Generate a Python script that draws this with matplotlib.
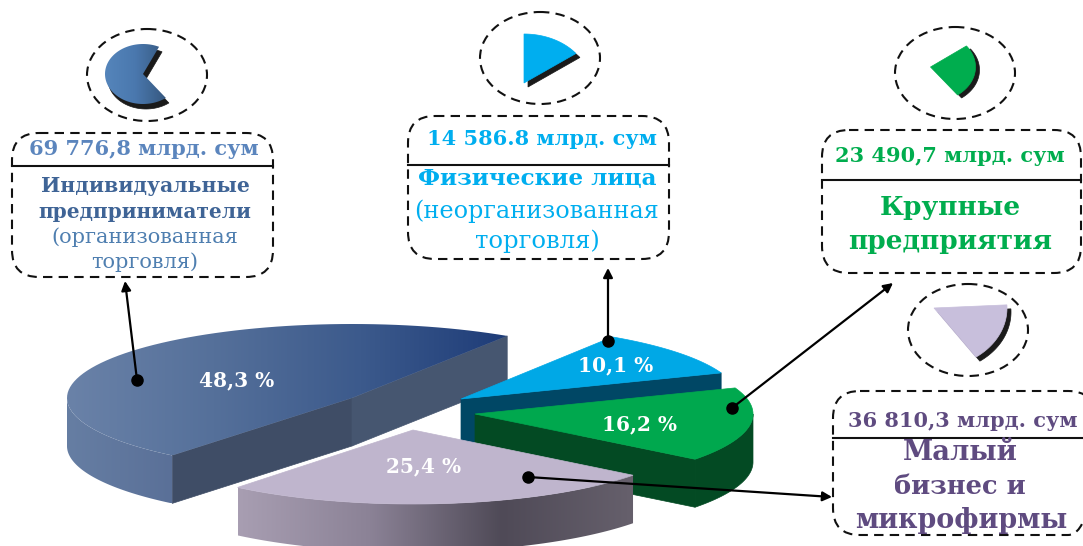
# coding: utf-8
import numpy as np
import matplotlib
matplotlib.use("Agg")
from matplotlib import pyplot as plt
from matplotlib.colors import LinearSegmentedColormap
from matplotlib.patches import Polygon, Ellipse, FancyBboxPatch

plt.rcParams['font.family'] = ['DejaVu Serif']

# data
shares = [10.1, 16.2, 25.4, 48.3]
share_labels = ['10,1 %', '16,2 %', '25,4 %', '48,3 %']
amounts = ['14 586.8 млрд. сум', '23 490,7 млрд. сум', '36 810,3 млрд. сум', '69 776,8 млрд. сум']

# layout, in pixels of the picture
W, H = 1083, 546
radii = [(278., 74.), (278., 74.), (278., 74.), (285., 74.)]
depth = 48.
start_angle = 57.
centers = [(461, 399), (475, 414), (413, 430), (352, 398)]
label_pos = [(616, 365), (640, 424), (424, 466), (237, 380)]
draw_order = [3, 0, 1, 2]

top_colors = [['#00a8e6'], ['#00a84e'], ['#bfb5cd'], ['#6a82a8', '#55709a', '#3c5a8c', '#1e3c78']]
side_colors = [['#004765'], ['#034a23'], ['#a89eb2', '#8b8296', '#4f4a57', '#66606c'], ['#667ea3', '#5a7098']]
wall_colors = [('#004765', '#004765'), ('#034a23', '#034a23'),
               ('#8b8296', '#8b8296'), ('#3f4d66', '#465670')]

fig = plt.figure(figsize=(W / 100, H / 100), dpi=100)
ax = fig.add_axes([0, 0, 1, 1])
zc = [1]


def next_z():
    zc[0] += 1
    return zc[0]


def fill(points, colors):
    # plain polygon for one colour, clipped gradient image for several
    points = np.asarray(points)
    z = next_z()
    if len(colors) == 1:
        ax.add_patch(Polygon(points, closed=True, fc=colors[0], ec=colors[0], lw=0.5, zorder=z))
        return
    poly = Polygon(points, closed=True, transform=ax.transData)
    cmap = LinearSegmentedColormap.from_list('g', colors)
    x0, x1 = points[:, 0].min(), points[:, 0].max()
    y0, y1 = points[:, 1].min(), points[:, 1].max()
    im = ax.imshow(np.linspace(0, 1, 256).reshape(1, -1), cmap=cmap, aspect='auto',
                   extent=(x0, x1, y1, y0), zorder=z, interpolation='bilinear')
    im.set_clip_path(poly)


def arc(cx, cy, a1, a2, arx, ary, n=80):
    t = np.radians(np.linspace(a1, a2, n))
    return np.column_stack((cx + arx * np.cos(t), cy - ary * np.sin(t)))


# pie: slices go clockwise from start_angle
angle = start_angle
spans = []
for s in shares:
    spans.append((angle, angle - s * 3.6))
    angle -= s * 3.6

for i in draw_order:
    a1, a2 = spans[i]
    cx, cy = centers[i]
    rx, ry = radii[i]
    apex = np.array([cx, cy], dtype=float)
    down = np.array([0, depth])
    p1 = arc(cx, cy, a1, a1, rx, ry, n=1)[0]
    p2 = arc(cx, cy, a2, a2, rx, ry, n=1)[0]
    if np.cos(np.radians(a1)) < 0:
        fill([apex, p1, p1 + down, apex + down], [wall_colors[i][0]])
    if np.cos(np.radians(a2)) > 0:
        fill([apex, p2, p2 + down, apex + down], [wall_colors[i][1]])
    # outer rim, only the part that faces the viewer
    low = max(a2, -180.)
    high = min(a1, 0.)
    if low < high:
        rim = arc(cx, cy, low, high, rx, ry)
        fill(np.vstack((rim, (rim + down)[::-1])), side_colors[i])
    fill(np.vstack(([apex], arc(cx, cy, a1, a2, rx, ry))), top_colors[i])
    ax.text(label_pos[i][0], label_pos[i][1], share_labels[i], color='white', fontsize=14.5,
            fontweight='bold', ha='center', va='center', zorder=60)

# icons: dashed ring + small slice with black shadow
rings = [(540, 58), (955, 73), (968, 330), (147, 75)]
icon_apex = [(524, 83), (930.5, 67), (934, 308), (143, 74)]
icon_radii = [(65, 49), (45, 35), (73, 60), (38, 30)]
icon_angles = [(90, 37), (37, -53), (3, -55), (65, 307)]
icon_colors = [['#00aeef'], ['#00ad4e'], ['#c8bfdc'], ['#5585bb', '#4a78ae', '#36587f']]
icon_shadow = [(4, 4), (4, 3), (4, 4), (3, 5)]

for i in range(4):
    ax.add_patch(Ellipse(rings[i], 120, 92, fc='none', ec='#111111', lw=1.5, ls=(0, (4.5, 3)), zorder=70))
    a1, a2 = icon_angles[i]
    pts = arc(icon_apex[i][0], icon_apex[i][1], a1, a2, icon_radii[i][0], icon_radii[i][1])
    shape = np.vstack(([icon_apex[i]], pts))
    fill(shape + np.array(icon_shadow[i]), ['#1a1a1a'])
    fill(shape, icon_colors[i])

# callout boxes
boxes = [(408, 116, 261, 143, 165), (822, 130, 259, 143, 180), (833, 391, 262, 144, 438), (12, 133, 261, 144, 166)]
for x, y, w, h, yd in boxes:
    ax.add_patch(FancyBboxPatch((x, y), w, h, boxstyle='round,pad=0,rounding_size=27', fc='none',
                                ec='#111111', lw=1.5, ls=(0, (4.5, 3)), zorder=70))
    ax.plot([x, x + w], [yd, yd], color='#111111', lw=1.5, zorder=70)

amount_pos = [(542, 139), (950, 156), (963, 421), (144, 149)]
amount_colors = ['#00aeef', '#00ad4e', '#5f4b80', '#5b85bd']
for i in range(4):
    ax.text(amount_pos[i][0], amount_pos[i][1], amounts[i], color=amount_colors[i], fontsize=15,
            fontweight='bold', ha='center', va='center', zorder=71)

names = [('Индивидуальные', 145, 186, '#3f6496', 'bold', 14.7),
         ('предприниматели', 145, 212, '#3f6496', 'bold', 14.5),
         ('(организованная', 145, 237, '#4f7fb0', 'normal', 15),
         ('торговля)', 145, 262, '#4f7fb0', 'normal', 15),
         ('Физические лица', 537, 179, '#00aeef', 'bold', 16.7),
         ('(неорганизованная', 537, 211, '#00aeef', 'normal', 17.2),
         ('торговля)', 537, 241, '#00aeef', 'normal', 17.5),
         ('Крупные', 950, 208, '#00ad4e', 'bold', 19),
         ('предприятия', 950, 241, '#00ad4e', 'bold', 19),
         ('Малый', 960, 453, '#5f4b80', 'bold', 19.7),
         ('бизнес и', 960, 487, '#5f4b80', 'bold', 18.5),
         ('микрофирмы', 961, 521, '#5f4b80', 'bold', 19.4)]
for s, x, y, c, fw, fs in names:
    ax.text(x, y, s, color=c, fontweight=fw, fontsize=fs, ha='center', va='center', zorder=71)

# leader lines: from the dot on the slice to the box
leaders = [((608, 341), (608, 268)), ((732, 408), (893, 283)), ((528, 477), (832, 497)), ((137, 380), (125, 281))]
for a, b in leaders:
    ax.annotate('', xy=b, xytext=a, zorder=80,
                arrowprops=dict(arrowstyle='-|>,head_length=0.55,head_width=0.28', color='black', lw=1.6,
                                shrinkA=0, shrinkB=0))
    ax.plot([a[0]], [a[1]], 'o', color='black', ms=8, zorder=81)

ax.set_xlim(0, W)
ax.set_ylim(H, 0)
ax.axis('off')
fig.savefig('out.png', dpi=100)
